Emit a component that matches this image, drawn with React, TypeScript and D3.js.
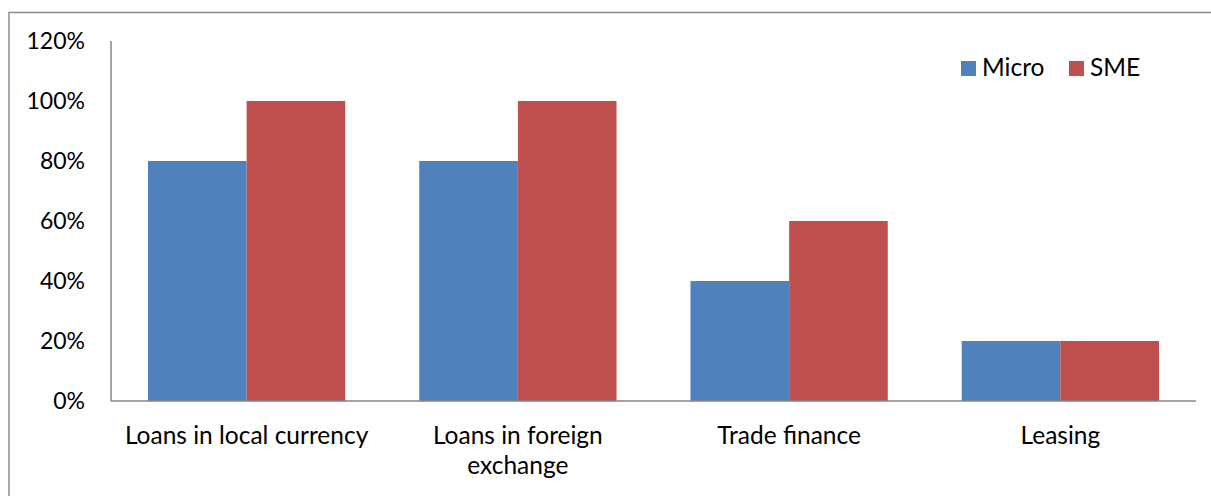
import React from "react";
import * as d3 from "d3";

const categories = [
  ["Loans in local currency"],
  ["Loans in foreign", "exchange"],
  ["Trade finance"],
  ["Leasing"],
];
const seriesNames = ["Micro", "SME"];
const microValues = [0.8, 0.8, 0.4, 0.2];
const smeValues = [1.0, 1.0, 0.6, 0.2];
const yTicks = [0, 0.2, 0.4, 0.6, 0.8, 1.0, 1.2];

const colors = ["#4F81BD", "#C0504D"];
const FONT = "Lato, 'Open Sans', sans-serif";

const W = 1211;
const H = 496;
const plot = { left: 111, right: 1196, top: 41, bottom: 401 };

const App = () => {
  const keys = categories.map((c) => c.join(" "));
  const x0 = d3.scaleBand<string>().domain(keys).range([plot.left, plot.right]);
  const groupW = (x0.bandwidth() * 2) / 2.75;
  const x1 = d3.scaleBand<string>().domain(seriesNames).range([0, groupW]);
  const y = d3.scaleLinear().domain([0, 1.2]).range([plot.bottom, plot.top]);
  const fmt = d3.format(".0%");
  const values = [microValues, smeValues];

  return (
    <svg
      width={W}
      height={H}
      style={{ position: "absolute", left: 0, top: 0, background: "#fff" }}
      fontFamily={FONT}
    >
      <rect x={9} y={12.5} width={W + 20} height={H + 20} fill="#fff" stroke="#8c8c8c" strokeWidth={1.5} />

      {yTicks.map((t) => (
        <text key={t} x={85} y={y(t)} dy="0.35em" textAnchor="end" fontSize={23} fill="#000">
          {fmt(t)}
        </text>
      ))}

      {keys.map((k, ci) =>
        seriesNames.map((s, si) => {
          const v = values[si][ci];
          const bx = (x0(k) ?? 0) + (x0.bandwidth() - groupW) / 2 + (x1(s) ?? 0);
          return (
            <rect
              key={k + s}
              x={bx}
              y={y(v)}
              width={x1.bandwidth()}
              height={y(0) - y(v)}
              fill={colors[si]}
            />
          );
        })
      )}

      <line x1={plot.left} x2={plot.left} y1={plot.top} y2={plot.bottom} stroke="#868686" strokeWidth={1.5} />
      <line x1={plot.left} x2={plot.right} y1={plot.bottom} y2={plot.bottom} stroke="#868686" strokeWidth={1.5} />

      {categories.map((lines, ci) => (
        <text
          key={ci}
          x={(x0(keys[ci]) ?? 0) + x0.bandwidth() / 2}
          y={444}
          textAnchor="middle"
          fontSize={24.5}
          fill="#000"
        >
          {lines.map((l, li) => (
            <tspan key={li} x={(x0(keys[ci]) ?? 0) + x0.bandwidth() / 2} dy={li === 0 ? 0 : 30}>
              {l}
            </tspan>
          ))}
        </text>
      ))}

      {seriesNames.map((s, si) => {
        const lx = [961, 1069][si];
        return (
          <g key={s}>
            <rect x={lx} y={61} width={15} height={15} fill={colors[si]} />
            <text x={lx + 21} y={76} fontSize={24.5} fill="#000">
              {s}
            </text>
          </g>
        );
      })}
    </svg>
  );
};

export default App;
